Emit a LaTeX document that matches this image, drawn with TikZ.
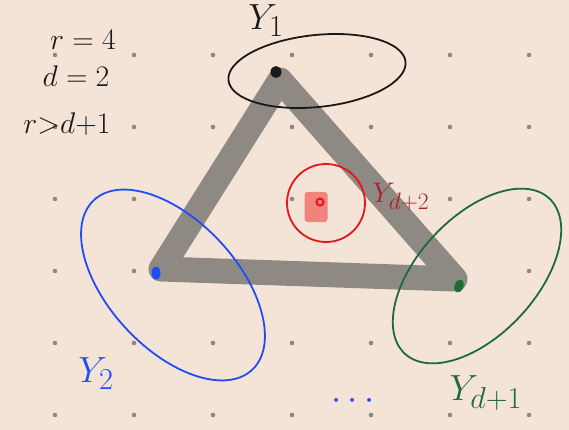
\documentclass[tikz,border=0pt]{standalone}
\usepackage{amsmath}
\usetikzlibrary{shapes.geometric}
\definecolor{paper}{HTML}{F4E4D8}
\definecolor{griddot}{HTML}{8C8782}
\definecolor{bandgrey}{HTML}{8F8983}
\definecolor{inkblack}{HTML}{1A1A1A}
\definecolor{inkblue}{HTML}{1F4DF5}
\definecolor{inkgreen}{HTML}{1E6B3A}
\definecolor{inkred}{HTML}{E8141A}
\definecolor{inkdarkred}{HTML}{B01E28}
\definecolor{softred}{HTML}{F0837C}
\tikzset{
  band/.style={draw=bandgrey, line width=25pt, line join=round, line cap=round},
  blob/.style={ellipse, inner sep=0pt, minimum width=9pt, minimum height=13pt},
  loopset/.style={ellipse, draw, line width=1.8pt, inner sep=0pt},
  hand/.style={anchor=center, inner sep=0pt, font=\Huge, scale=1.2, transform shape},
  setname/.style={hand, scale=1.22}
}
\begin{document}
\begin{tikzpicture}[x=1pt,y=-1pt]
\fill[paper] (0,0) rectangle (569,430);
\useasboundingbox (0,0) rectangle (569,430);
% corners of the band
\coordinate (c1) at (280,80);
\coordinate (c2) at (161,269);
\coordinate (c3) at (455,279);
\draw[band] (c1) -- (c2) -- (c3) -- cycle;
% dot grid
\foreach \gx in {55,134,213,292,371,450,529}
  \foreach \gy in {55,127,199,271,343,415}
    \fill[griddot] (\gx,\gy) circle (2.3pt);
% vertices
\node[blob, fill=inkblack, minimum width=11pt, minimum height=12pt] (v1) at (276,72) {};
\node[blob, fill=inkblue] (v2) at (156,273) {};
\node[blob, fill=inkgreen, rotate=-20] (v3) at (459,286) {};
% the sets
\node[loopset, draw=inkblack, minimum width=178pt, minimum height=72pt, rotate=6] (y1) at (317,71) {};
\node[loopset, draw=inkblue, minimum width=232pt, minimum height=128pt, rotate=-47] (y2) at (173,285) {};
\node[loopset, draw=inkgreen, minimum width=212pt, minimum height=118pt, rotate=47] (yd1) at (477,276) {};
\node[circle, draw=inkred, line width=1.8pt, minimum size=78pt] (yd2) at (326,203) {};
\node[fill=softred, rounded corners=3pt, minimum width=23pt, minimum height=30pt] (pt) at (316,207) {};
\node[circle, draw=inkred, line width=2pt, minimum size=7pt, inner sep=0pt] (ptdot) at (320,202) {};
% labels
\node[hand, text=inkblack] (lr) at (83,40) {$r=4$};
\node[hand, text=inkblack] (ld) at (76,76) {$d=2$};
\node[hand, text=inkblack] (lrd) at (67,124) {$r{>}d{+}1$};
\node[setname, text=inkblack] (ly1) at (266,21) {$Y_1$};
\node[setname, text=inkblue] (ly2) at (96,374) {$Y_2$};
\node[hand, text=inkdarkred, scale=0.95] (lyd2) at (401,197) {$Y_{d+2}$};
\node[setname, text=inkblue] (ldots) at (356,401) {$\cdots$};
\node[setname, text=inkgreen] (lyd1) at (486,393) {$Y_{d+1}$};
\end{tikzpicture}
\end{document}
